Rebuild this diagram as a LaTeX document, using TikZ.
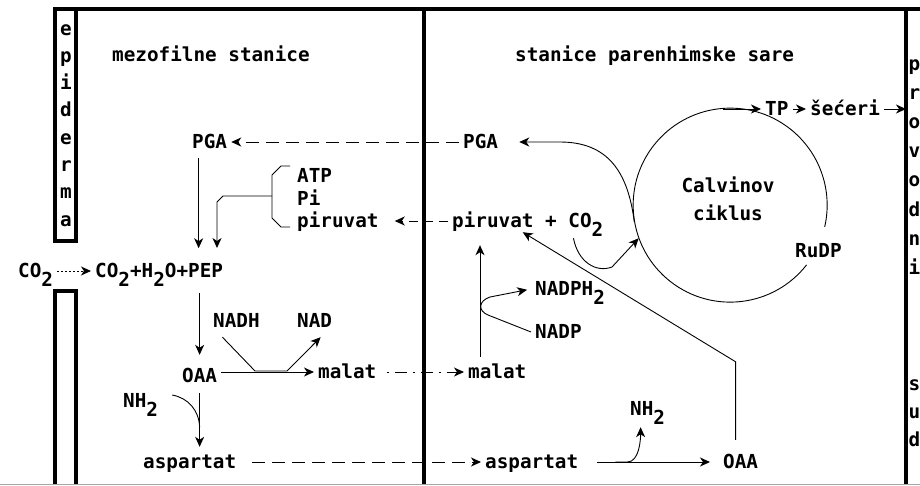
\documentclass[tikz,border=0pt]{standalone}
\usepackage{fontspec}
\setmonofont{DejaVu Sans Mono}
\usetikzlibrary{arrows.meta,calc}

\newcommand\dn[1]{\raisebox{-9pt}{#1}}

\tikzset{
  lbl/.style={font=\ttfamily\bfseries\fontsize{19.3}{22}\selectfont,
              inner xsep=4pt,inner ysep=0pt,text height=12pt,text depth=0pt,
              anchor=base west},
  wall/.style={line width=4pt},
  epi/.style={line width=3.5pt},
  ln/.style={line width=0.9pt},
  ar/.style={-{Stealth[length=10pt,width=9pt,inset=3pt]},line width=0.9pt},
  dsh/.style={ar,dash pattern=on 13pt off 7pt},
  dshdot/.style={ar,dash pattern=on 2pt off 6pt on 12pt off 6pt},
  dot/.style={ar,dash pattern=on 1.5pt off 2.5pt},
}

\begin{document}
\begin{tikzpicture}[x=1pt,y=-1pt]
  \useasboundingbox (0,0) rectangle (920,485);

  % cell walls
  \coordinate (wM) at (424,9);
  \coordinate (wR) at (906,9);
  \draw[wall] (53,9) -- (920,9);
  \draw[wall] (wM) -- (424,485);
  \draw[wall] (wR) -- (906,485);
  \draw[epi] (55,9) rectangle (76,241);
  \draw[epi] (55,485) -- (55,291) -- (76,291) -- (76,485);
  \draw[gray!70,line width=1pt] (0,484) -- (920,484);

  % side captions
  \foreach \c [count=\i from 0] in {e,p,i,d,e,r,m,a}
    \node[lbl,anchor=base] (ep\i) at (66,35+27.3*\i) {\c};
  \foreach \c [count=\i from 0] in {p,r,o,v,o,d,n,i}
    \node[lbl] (vs\i) at (904.5,70+29.2*\i) {\c};
  \foreach \c [count=\i from 0] in {s,u,d}
    \node[lbl] (sd\i) at (904.5,390+28*\i) {\c};

  \node[lbl] (mez) at (108,61) {mezofilne stanice};
  \node[lbl] (par) at (511,61) {stanice parenhimske sare};

  % mesophyll
  \node[lbl] (pgaL) at (188,148) {PGA};
  \node[lbl] (atp) at (293,182) {ATP};
  \node[lbl] (pi) at (293,205) {Pi};
  \node[lbl] (piruL) at (293,227) {piruvat};
  \node[lbl] (co2) at (14,277) {CO\dn{2}};
  \node[lbl] (pep) at (91,277) {CO\dn{2}+H\dn{2}O+PEP};
  \node[lbl] (nadh) at (209,327) {NADH};
  \node[lbl] (nad) at (293,327) {NAD};
  \node[lbl] (oaaL) at (178,382) {OAA};
  \node[lbl] (malL) at (314,378) {malat};
  \node[lbl] (nhL) at (119,407) {NH\dn{2}};
  \node[lbl] (aspL) at (139,468) {aspartat};

  % bundle sheath
  \node[lbl] (pgaR) at (459,148) {PGA};
  \node[lbl] (piruR) at (448,227) {piruvat + CO\dn{2}};
  \node[lbl] (nadph) at (531,295) {NADPH\dn{2}};
  \node[lbl] (nadp) at (531,338) {NADP};
  \node[lbl] (malR) at (464,378) {malat};
  \node[lbl] (nhR) at (626,415) {NH\dn{2}};
  \node[lbl] (aspR) at (481,468) {aspartat};
  \node[lbl] (oaaR) at (719,468) {OAA};
  \node[lbl] (tp) at (761,115) {TP};
  \node[lbl] (sec) at (806,115) {šećeri};
  \node[lbl] (rudp) at (791,257) {RuDP};
  \node[circle,minimum size=194pt,inner sep=0pt] (cyc) at (730,205) {};
  \node[lbl,anchor=base] (calv) at (728,192) {Calvinov};
  \node[lbl,anchor=base] (cikl) at (728,220) {ciklus};

  % Calvin cycle
  \draw[ln] (cyc.-38) arc[start angle=38,end angle=373,radius=97];
  \draw[ar] ($(tp.west)+(-38,0)$) -- (tp.west);
  \draw[ar] (tp.east) -- (sec.west);
  \draw[ar] (sec.east) -- (sec.east -| wR);
  \draw[ar,shorten >=17pt] (cyc.190) .. controls (628,172) and (608,142) .. (560,142) -- (pgaR.east);
  \draw[ar] ($(piruR.south east)+(-34,11)$) .. controls (578,262) and (596,273) .. (612,267) -- (cyc.200);

  % transport between cells
  \draw[dsh] (pgaR.west) -- (pgaL.east);
  \draw[dsh,dash pattern=on 9pt off 6pt,shorten >=12pt] (piruR.west) -- (piruL.east);
  \draw[dshdot,shorten <=6pt] (malL.east) -- (malR.west);
  \draw[dsh,shorten <=12pt] (aspL.east) -- (aspR.west);
  \draw[dot] (co2.east) -- (pep.west);

  % mesophyll reactions
  \draw[ar] ($(pgaL.south)+(-11,10)$) -- ($(pgaL.south)+(-11,100)$);
  \draw[ln] ($(atp.west)+(-3,-10)$) -- ++(-9,0) -- ++(-9,9)
    -- ($(piruL.west)+(-21,-3)$) -- ++(9,9) -- ++(9,0);
  \draw[ar] ($(pi.west)+(-21,-3)$) -- ++(-49,0) -- ++(-6,6) -- ++(0,46);
  \draw[ar,shorten <=16pt,shorten >=15pt] (pep.south -| oaaL.south) -- (oaaL.north);
  \draw[ar] (oaaL.east |- malL.west) -- (malL.west);
  \draw[ar] ($(nadh.south)+(-14,10)$) -- (255,371) -- (287,371) -- ($(nad.south)+(6,10)$);
  \draw[ln] ($(nhL.east)+(10,-6)$) .. controls (188,398) and (199,410) .. ($(oaaL.south)+(0,45)$);
  \draw[ar,shorten <=11pt,shorten >=9pt] (oaaL.south) -- (oaaL.south |- aspL.north);

  % bundle sheath reactions
  \coordinate (mup) at ($(malR.north west)+(16,0)$);
  \draw[ar,shorten <=9pt,shorten >=18pt] (mup) -- (mup |- piruR.south);
  \draw[ar,shorten >=4pt] (nadp.west) -- (488,315) .. controls (478,311) and (478,301) .. (490,297) -- (nadph.west);
  \draw[ar,shorten <=15pt,shorten >=9pt] (aspR.east) -- (oaaR.west);
  \draw[ar] ($(aspR.east)+(33,0)$) -- ++(12,0) .. controls +(12,0) and +(0,12) .. ($(nhR.south)+(-7,12)$);
  \draw[ar] ($(oaaR.north)+(-5,-16)$) -- ++(0,-78) -- ($(piruR.south)+(-5,5)$);
\end{tikzpicture}
\end{document}
